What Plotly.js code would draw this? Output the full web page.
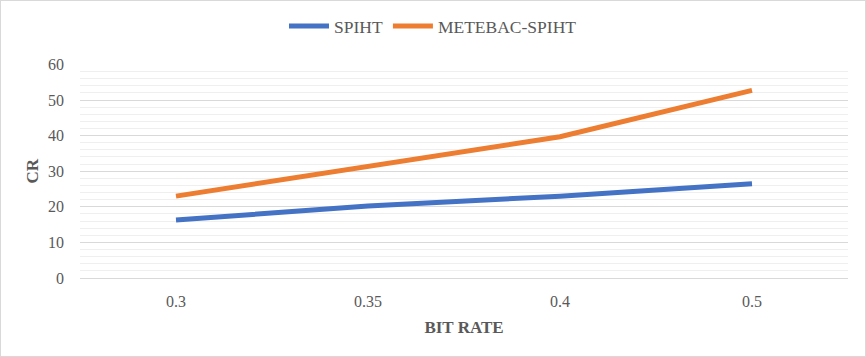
<!DOCTYPE html>
<html>
<head>
<meta charset="utf-8">
<script src="https://cdn.plot.ly/plotly-3.0.1.min.js"></script>
<style>
html,body{margin:0;padding:0;background:#fff;}
#wrap{position:relative;width:866px;height:357px;}
#chart{width:866px;height:357px;}
#frame{position:absolute;left:0;top:0;width:864px;height:355px;border:1px solid #d9d9d9;pointer-events:none;}
</style>
</head>
<body>
<div id="wrap"><div id="chart"></div><div id="frame"></div></div>
<script>
var bitRates = ['0.3', '0.35', '0.4', '0.5'];
var spiht = [16.3, 20.2, 23.0, 26.5];
var metebacSpiht = [23.0, 31.2, 39.7, 52.7];
var seriesNames = ['SPIHT', 'METEBAC-SPIHT'];
var yTicks = [0, 10, 20, 30, 40, 50, 60];

var txt = '#595959';
var font = '"Liberation Serif", "Times New Roman", serif';

var traces = [
  {x: bitRates, y: spiht, name: seriesNames[0], type: 'scatter', mode: 'lines',
   line: {color: '#4472C4', width: 5}},
  {x: bitRates, y: metebacSpiht, name: seriesNames[1], type: 'scatter', mode: 'lines',
   line: {color: '#ED7D31', width: 5}}
];

var layout = {
  width: 866, height: 357,
  margin: {l: 80, r: 18, t: 62, b: 79},
  paper_bgcolor: '#fff', plot_bgcolor: '#fff',
  font: {family: font, color: txt, size: 16},
  showlegend: true,
  legend: {orientation: 'h', x: 0.5, xanchor: 'center', xref: 'container',
           y: 0.927, yref: 'container', yanchor: 'middle',
           font: {family: font, size: 17.5, color: txt}, itemwidth: 40, tracegroupgap: 0},
  xaxis: {
    type: 'category', range: [-0.5, 3.5], categoryarray: bitRates,
    showgrid: false, zeroline: false, showline: false, ticks: '',
    tickfont: {family: font, size: 16, color: txt},
    ticklabelstandoff: 12, automargin: true,
    title: {text: '<b>BIT RATE</b>', font: {family: font, size: 17, color: txt}, standoff: 12}
  },
  yaxis: {
    range: [0, 60], tickvals: yTicks, ticktext: yTicks.map(String),
    showgrid: true, gridcolor: '#d9d9d9', gridwidth: 1,
    zeroline: true, zerolinecolor: '#d9d9d9', zerolinewidth: 1,
    showline: false, ticks: '',
    minor: {dtick: 2, tick0: 0, showgrid: true, gridcolor: '#efefef', gridwidth: 1},
    tickfont: {family: font, size: 16, color: txt},
    ticklabelstandoff: 15, automargin: true,
    title: {text: '<b>CR</b>', font: {family: font, size: 17, color: txt}, standoff: 5}
  }
};

Plotly.newPlot('chart', traces, layout, {displayModeBar: false, staticPlot: true});
</script>
</body>
</html>
